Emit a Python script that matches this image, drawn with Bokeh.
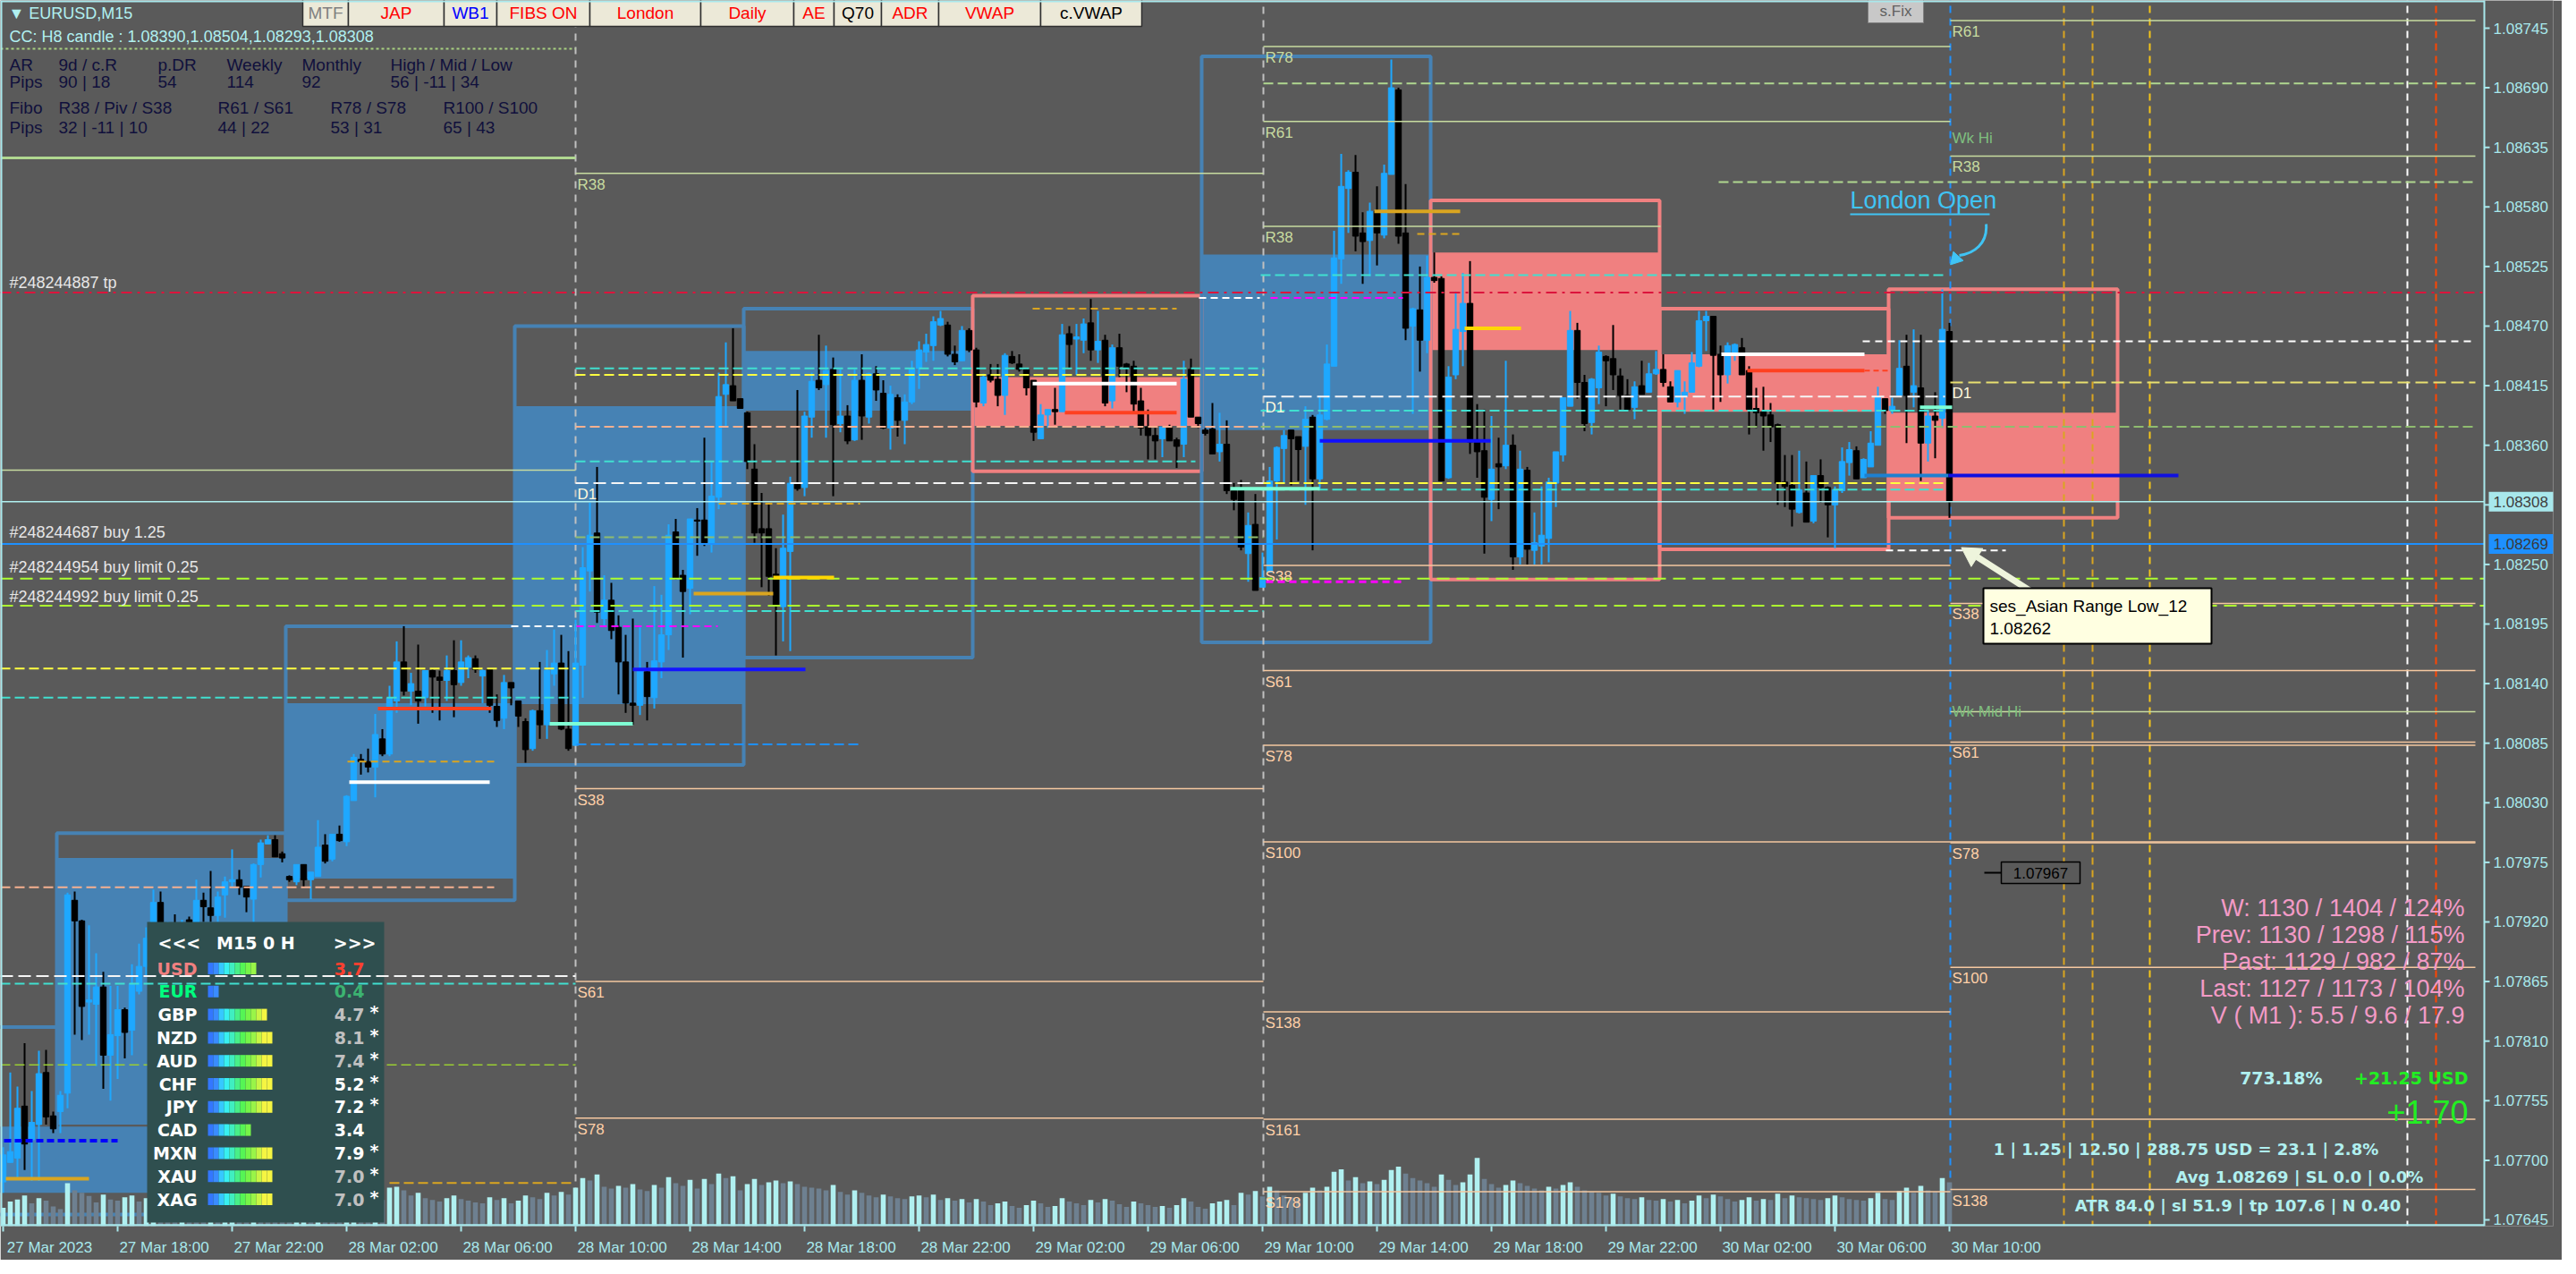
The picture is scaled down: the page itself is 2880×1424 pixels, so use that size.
import numpy as np
from bokeh.plotting import figure
from bokeh.models import Range1d, FixedTicker, NumeralTickFormatter, ColumnDataSource, LinearAxis
from bokeh.embed import file_html
from bokeh.resources import INLINE
from bokeh.core.properties import value

# ---------------- data (EURUSD M15, bar 0 = 27 Mar 2023 14:00), prices in points ----------------
bar_open = [
107680,107698,107702,107750,107719,107733,107781,107741,107745,107762,
107940,107921,107846,107844,107860,107797,107815,107839,107820,107856,
107879,107905,107938,107900,107912,107905,107922,107905,107940,107933,
107926,107945,107957,107959,107953,107941,107973,107992,107996,107983,
107962,107957,107973,107959,107962,107991,107978,108001,107994,108032,
108070,108068,108063,108089,108075,108124,108160,108133,108133,108127,
108152,108146,108143,108152,108141,108155,108163,108147,108153,108119,
108108,108141,108124,108105,108080,108115,108102,108149,108159,108098,
108083,108157,108244,108279,108200,108217,108192,108160,108122,108120,
108151,108127,108160,108185,108280,108240,108228,108291,108291,108269,
108312,108407,108415,108403,108390,108338,108283,108283,108241,108211,
108262,108324,108321,108386,108420,108416,108430,108380,108387,108365,
108420,108386,108426,108408,108376,108404,108383,108400,108431,108446,
108452,108471,108471,108444,108438,108466,108448,108399,108425,108421,
108406,108442,108435,108430,108420,108366,108388,108393,108391,108463,
108458,108457,108473,108448,108457,108401,108450,108435,108433,108401,
108377,108369,108366,108377,108365,108361,108430,108386,108374,108375,
108354,108361,108318,108320,108260,108287,108229,108243,108327,108357,
108374,108368,108359,108386,108329,108384,108433,108532,108597,108612,
108556,108549,108576,108554,108610,108688,108556,108470,108485,108457,
108515,108514,108330,108425,108465,108491,108365,108355,108310,108343,
108341,108360,108257,108337,108263,108267,108274,108325,108351,108396,
108466,108418,108381,108413,108442,108440,108424,108406,108395,108415,
108409,108426,108430,108414,108400,108405,108409,108433,108475,108479,
108444,108425,108443,108450,108429,108394,108391,108388,108379,108326,
108323,108298,108316,108290,108332,108321,108305,108318,108344,108355,
108330,108340,108360,108403,108392,108406,108433,108409,108413,108362,
108387,108385,108465]
bar_high = [
107712,107781,107768,107808,107764,107801,107802,107745,107764,107947,
107948,107922,107917,107891,107874,107861,107861,107841,107881,107900,
107915,107950,107948,107920,107927,107922,107925,107959,107947,107967,
107948,107962,107987,107968,107953,107974,107996,108000,108000,107985,
107963,107973,107973,107966,108014,108001,108001,108009,108037,108075,
108075,108080,108112,108098,108138,108179,108193,108150,108176,108152,
108153,108152,108166,108180,108180,108166,108166,108153,108153,108130,
108148,108141,108124,108108,108116,108160,108171,108190,108185,108170,
108199,108266,108307,108340,108240,108233,108203,108185,108200,108192,
108160,108230,108222,108287,108292,108245,108292,108302,108367,108345,
108427,108455,108468,108403,108391,108361,108316,108306,108265,108296,
108331,108411,108391,108427,108462,108452,108441,108430,108397,108430,
108444,108427,108433,108420,108415,108407,108407,108438,108456,108463,
108479,108484,108474,108452,108470,108468,108450,108426,108435,108435,
108445,108447,108444,108431,108420,108398,108393,108413,108472,108470,
108472,108477,108495,108484,108462,108453,108463,108436,108438,108413,
108393,108376,108377,108379,108367,108438,108440,108386,108376,108399,
108390,108383,108325,108328,108298,108315,108261,108340,108359,108374,
108374,108368,108396,108388,108406,108453,108558,108629,108614,108628,
108575,108584,108599,108619,108716,108690,108601,108487,108525,108535,
108538,108516,108433,108502,108519,108530,108398,108393,108387,108367,
108438,108370,108355,108340,108298,108322,108330,108354,108404,108484,
108473,108425,108422,108452,108443,108471,108431,108421,108419,108438,
108436,108447,108444,108419,108429,108419,108446,108484,108484,108479,
108452,108455,108454,108459,108433,108413,108414,108399,108380,108351,
108351,108355,108345,108332,108347,108322,108322,108358,108363,108359,
108348,108373,108414,108403,108404,108457,108462,108467,108462,108392,
108409,108504,108473]
bar_low = [
107670,107698,107684,107691,107681,107681,107733,107725,107725,107748,
107816,107811,107816,107787,107766,107755,107775,107794,107797,107853,
107870,107895,107885,107890,107885,107895,107890,107898,107920,107920,
107920,107924,107952,107945,107929,107920,107961,107992,107980,107975,
107957,107954,107952,107941,107962,107974,107976,107994,107990,108032,
108056,108058,108035,108073,108073,108113,108129,108120,108103,108119,
108113,108106,108124,108109,108138,108145,108150,108122,108113,108100,
108098,108120,108100,108067,108078,108089,108089,108138,108097,108078,
108083,108127,108225,108196,108193,108181,108130,108113,108102,108111,
108106,108117,108145,108171,108236,108164,108204,108258,108267,108261,
108301,108378,108401,108394,108338,108270,108229,108221,108166,108179,
108170,108318,108313,108367,108411,108367,108313,108372,108361,108364,
108365,108380,108401,108375,108356,108368,108361,108398,108412,108437,
108438,108470,108442,108434,108438,108446,108395,108396,108418,108396,
108388,108435,108428,108406,108364,108366,108376,108379,108391,108431,
108425,108445,108438,108436,108396,108394,108423,108409,108391,108369,
108347,108347,108349,108364,108339,108349,108386,108376,108369,108352,
108345,108315,108300,108263,108234,108226,108229,108243,108273,108325,
108323,108327,108305,108263,108320,108383,108433,108509,108556,108539,
108509,108516,108526,108551,108610,108546,108457,108389,108428,108445,
108510,108327,108329,108421,108433,108352,108330,108260,108290,108301,
108338,108245,108250,108250,108250,108250,108252,108303,108345,108396,
108403,108373,108370,108398,108396,108411,108393,108393,108384,108407,
108409,108425,108414,108400,108395,108389,108409,108432,108447,108393,
108400,108417,108438,108425,108370,108376,108355,108363,108305,108303,
108285,108297,108289,108288,108307,108275,108265,108316,108332,108329,
108330,108340,108360,108389,108389,108406,108362,108395,108327,108345,
108348,108376,108293]
bar_close = [
107705,107708,107748,107715,107735,107780,107740,107729,107760,107945,
107921,107842,107848,107860,107797,107816,107839,107818,107863,107879,
107905,107938,107900,107912,107905,107918,107905,107940,107934,107926,
107943,107957,107959,107952,107943,107973,107993,107996,107980,107979,
107959,107973,107959,107966,107989,107976,108001,107995,108036,108072,
108068,108063,108093,108075,108127,108160,108133,108140,108124,108152,
108146,108143,108152,108139,108160,108164,108153,108152,108120,108106,
108141,108136,108110,108079,108115,108102,108152,108159,108098,108080,
108159,108247,108277,108206,108217,108189,108160,108122,108120,108152,
108128,108161,108185,108277,108237,108225,108292,108290,108270,108313,
108405,108416,108401,108394,108345,108279,108279,108239,108212,108265,
108325,108320,108387,108419,108413,108429,108379,108387,108364,108420,
108387,108426,108411,108376,108407,108383,108400,108431,108448,108453,
108474,108477,108444,108437,108466,108448,108400,108423,108420,108406,
108443,108436,108430,108413,108372,108388,108393,108391,108462,108453,
108460,108472,108448,108456,108399,108450,108433,108431,108398,108376,
108369,108364,108377,108364,108359,108421,108386,108380,108371,108352,
108361,108318,108310,108266,108286,108226,108238,108327,108358,108369,
108366,108356,108384,108329,108388,108435,108533,108599,108612,108553,
108548,108576,108556,108611,108690,108553,108468,108486,108457,108515,
108512,108327,108423,108467,108491,108363,108354,108312,108338,108340,
108360,108257,108338,108264,108270,108277,108326,108354,108404,108466,
108418,108380,108421,108446,108438,108425,108406,108393,108414,108407,
108426,108430,108418,108400,108429,108409,108436,108475,108479,108443,
108425,108452,108453,108425,108393,108390,108387,108377,108325,108322,
108301,108319,108289,108332,108321,108305,108319,108345,108356,108329,
108347,108362,108404,108392,108396,108431,108406,108415,108362,108387,
108383,108467,108308]
bar_volume = [
420,560,610,700,520,640,580,450,390,980,
820,760,690,540,720,610,580,660,700,560,
640,720,680,590,520,610,560,540,500,620,
560,580,640,520,480,700,650,540,520,460,
420,560,600,540,720,640,580,520,800,860,
640,580,820,600,880,900,820,700,760,640,
600,560,640,700,620,580,540,520,660,600,
640,520,580,700,660,620,760,700,780,720,
880,1100,1040,1180,900,860,920,880,960,840,
800,940,880,1120,980,920,1060,860,1080,960,
1200,1100,1140,820,960,1080,940,1000,1040,980,
1020,960,900,880,860,820,940,780,720,820,
760,700,660,720,680,640,620,680,700,660,
720,600,640,580,620,540,620,560,480,520,
560,460,420,480,580,520,440,460,640,560,
520,480,600,540,620,580,500,440,560,520,
480,440,460,420,480,640,560,440,400,520,
560,600,480,760,720,800,680,900,820,700,
660,620,760,880,820,900,1240,1300,1040,1120,
980,1020,960,1060,1280,1360,1200,1100,1040,980,
900,1180,1060,940,1000,1180,1560,1080,960,880,
940,1040,980,920,860,820,900,860,940,1000,
900,820,780,760,700,740,680,640,620,660,
600,580,620,560,600,520,580,700,640,720,
680,620,560,600,660,580,620,600,740,640,
700,660,640,620,600,640,700,660,620,600,
580,640,760,620,600,800,880,760,920,820,
780,1100,1000]

time_labels = ["27 Mar 2023", "27 Mar 18:00", "27 Mar 22:00", "28 Mar 02:00", "28 Mar 06:00",
               "28 Mar 10:00", "28 Mar 14:00", "28 Mar 18:00", "28 Mar 22:00", "29 Mar 02:00",
               "29 Mar 06:00", "29 Mar 10:00", "29 Mar 14:00", "29 Mar 18:00", "29 Mar 22:00",
               "30 Mar 02:00", "30 Mar 06:00", "30 Mar 10:00"]
price_ticks = [1.07645, 1.07700, 1.07755, 1.07810, 1.07865, 1.07920, 1.07975, 1.08030, 1.08085,
               1.08140, 1.08195, 1.08250, 1.08305, 1.08360, 1.08415, 1.08470, 1.08525, 1.08580,
               1.08635, 1.08690, 1.08745]
bid_price = 1.08308
avg_price = 1.08269

# H8 session boxes (first bar index, OHLC)
sess_start = [-8, 8, 40, 72, 104, 136, 168, 200, 232, 264]
sess_open = [1.07670, 1.07733, 1.07960, 1.08121, 1.08392, 1.08423, 1.08374, 1.08538, 1.08444, 1.08390]
sess_high = [1.07823, 1.08002, 1.08193, 1.08470, 1.08486, 1.08498, 1.08719, 1.08586, 1.08486, 1.08504]
sess_low = [1.07650, 1.07702, 1.07940, 1.08065, 1.08164, 1.08336, 1.08178, 1.08236, 1.08264, 1.08293]
sess_close = [1.07731, 1.07979, 1.08122, 1.08396, 1.08447, 1.08378, 1.08536, 1.08448, 1.08391, 1.08308]

# currency strength panel
cur_names = ["USD", "EUR", "GBP", "NZD", "AUD", "CHF", "JPY", "CAD", "MXN", "XAU", "XAG"]
cur_strength = [3.7, 0.4, 4.7, 8.1, 7.4, 5.2, 7.2, 3.4, 7.9, 7.0, 7.0]
cur_star = [False, False, True, True, True, True, True, False, True, True, True]

# ---------------- geometry helpers (reference pixel -> data) ----------------
def X(px):
    return (px - 11) / 8.0

def Y(py):
    return 1.08745 - (py - 39) / 121090.0

BG = "#5a5a5a"
AX = "#a8e8ec"
UP = "#1ea8ff"
DN = "#000000"

# the plot area runs under the price scale, so the bid / average boxes can sit on it
p = figure(width=2864, height=1408, output_backend="svg", toolbar_location=None,
           x_range=Range1d(X(8), X(2862)), y_range=Range1d(Y(1378), Y(8)),
           x_axis_location="below", y_axis_location="right",
           min_border_left=0, min_border_right=10, min_border_top=0, min_border_bottom=38)
p.background_fill_color = BG
p.border_fill_color = BG
p.outline_line_color = None
p.xgrid.visible = False
p.ygrid.visible = False

# price axis: labels pulled back over the price-scale strip
yax = p.yaxis[0]
yax.ticker = FixedTicker(ticks=[t for t in price_ticks if abs(t - 1.08305) > 1e-9])
yax.formatter = NumeralTickFormatter(format="0.00000")
yax.axis_line_color = None
yax.major_tick_line_color = None
yax.minor_tick_line_color = None
yax.major_tick_out = 0
yax.major_tick_in = 0
yax.major_label_standoff = -67
yax.major_label_text_color = AX
yax.major_label_text_font = "Liberation Sans"
yax.major_label_text_font_size = "17px"

# time axis: tick marks on one axis, labels (starting at each tick) on a second one
xax = p.xaxis[0]
xax.ticker = FixedTicker(ticks=[16 * k for k in range(len(time_labels))])
xax.axis_line_color = None
xax.major_tick_line_color = AX
xax.major_tick_line_width = 2
xax.major_tick_out = 6
xax.major_tick_in = 0
xax.minor_tick_line_color = None
xax.major_label_text_font_size = "1px"
xax.major_label_text_alpha = 0
xax.major_label_standoff = 0
lab_ticks = [16 * k + 6.5 for k in range(len(time_labels))]
lab_axis = LinearAxis(ticker=FixedTicker(ticks=lab_ticks),
                      major_label_overrides={t: s for t, s in zip(lab_ticks, time_labels)},
                      axis_line_color=None, major_tick_line_color=None, minor_tick_line_color=None,
                      major_label_standoff=2, major_label_text_color=AX,
                      major_label_text_font="Liberation Sans", major_label_text_font_size="17px")
p.add_layout(lab_axis, "below")

n = min(len(bar_open), len(bar_high), len(bar_low), len(bar_close))
idx = np.arange(n)
o = np.array(bar_open[:n]) / 1e5
h = np.array(bar_high[:n]) / 1e5
l = np.array(bar_low[:n]) / 1e5
c = np.array(bar_close[:n]) / 1e5

def hline(price, x0, x1, color, width=1.5, dash="solid"):
    p.segment(x0=[X(x0)], y0=[price], x1=[X(x1)], y1=[price], line_color=color,
              line_width=width, line_dash=dash)

def vline(px, y0, y1, color, width=2, dash="solid"):
    p.segment(x0=[X(px)], y0=[Y(y0)], x1=[X(px)], y1=[Y(y1)], line_color=color,
              line_width=width, line_dash=dash)

def txt(px, py, s, color, size, align="left", baseline="middle", bold=False, font="Liberation Sans"):
    p.text(x=[X(px)], y=[Y(py)], text=[s], text_color=color, text_font=value(font),
           text_font_size="%dpx" % size, text_align=align, text_baseline=baseline,
           text_font_style="bold" if bold else "normal")

def box(x0, x1, y0, y1, fill, line=None, lw=1):
    p.quad(left=[X(x0)], right=[X(x1)], top=[Y(y0)], bottom=[Y(y1)], fill_color=fill,
           line_color=line, line_width=lw)

# ---------------- session boxes ----------------
s_left = [s - 0.5 for s in sess_start]
s_right = [s + 31.5 for s in sess_start]
s_col = ["#4682b4" if cl >= op else "#f08080" for op, cl in zip(sess_open, sess_close)]
sb = ColumnDataSource(dict(left=s_left, right=s_right,
                           btop=[max(a, b) for a, b in zip(sess_open, sess_close)],
                           bbot=[min(a, b) for a, b in zip(sess_open, sess_close)],
                           top=sess_high, bottom=sess_low, col=s_col))
p.quad(left="left", right="right", top="btop", bottom="bbot", fill_color="col", line_color=None, source=sb)
p.quad(left="left", right="right", top="top", bottom="bottom", fill_color=None, line_color="col",
       line_width=4, source=sb)

# ---------------- vertical separators ----------------
for px, col, dash in [(651, "#c0c0c0", "8 7"), (1420, "#c0c0c0", "8 7"), (2188, "#1e90ff", "8 6"),
                      (2315, "#daa520", "8 6"), (2347, "#daa520", "8 6"), (2411, "#f5c518", "8 6"),
                      (2699, "#ffffff", "8 6"), (2731, "#ff4500", "8 6")]:
    vline(px, 0, 1378, col, 2, dash)

# ---------------- candles ----------------
up = c >= o
for mask, col in ((up, UP), (~up, DN)):
    src = ColumnDataSource(dict(x=idx[mask], o=o[mask], c=c[mask], h=h[mask], l=l[mask]))
    p.segment(x0="x", y0="l", x1="x", y1="h", line_color=col, line_width=2, source=src)
    p.vbar(x="x", top="o", bottom="c", width=0.8, fill_color=col, line_color=col, line_width=1, source=src)

# ---------------- volumes ----------------
vol = bar_volume[:n]
p.extra_y_ranges = {"vol": Range1d(0, 28000)}
vcol = ["#b0f0f0" if (i == 0 or vol[i] >= vol[i - 1]) else "#6e8090" for i in range(n)]
p.vbar(x=idx, top=vol, bottom=0, width=0.7, fill_color=vcol, line_color=None, y_range_name="vol")

# ---------------- horizontal levels ----------------
OL = "#c8dca0"
PE = "#f5c8a0"
CY = "#40e0d0"
GR = "#8fbc6f"
hline(bid_price, 8, 2785, "#b0f0f0", 1.5)
hline(avg_price, 8, 2785, "#1e90ff", 2)
hline(1.08501, 8, 2785, "#dc143c", 2, "12 6 3 6")
hline(1.08237, 8, 2785, "#adff2f", 2, "14 8")
hline(1.08212, 8, 2785, "#adff2f", 2, "14 8")
hline(1.08337, 8, 651, OL, 1.5)
hline(1.08154, 8, 651, "#ffff40", 2, "11 5")
hline(1.08127, 8, 651, CY, 2, "11 5")
hline(1.07952, 8, 560, "#f5b090", 2, "11 5")
hline(1.07788, 8, 651, "#9acd32", 1.5, "11 5")
hline(1.07679, 443, 651, "#daa520", 2, "11 5")
hline(1.08431, 651, 1420, CY, 2, "11 5")
hline(1.08425, 651, 1420, "#ffff40", 2, "11 5")
hline(1.08377, 651, 1420, "#f5b090", 2, "11 5")
hline(1.08345, 651, 1344, CY, 2, "11 5")
hline(1.08275, 651, 1420, GR, 2, "11 5")
hline(1.08207, 651, 1420, CY, 2, "11 5")
hline(1.08084, 652, 970, "#1e90ff", 2, "11 5")
hline(1.08694, 1420, 2775, "#b0d890", 2, "11 5")
hline(1.08517, 1417, 2181, CY, 2, "11 5")
hline(1.08392, 1417, 2182, CY, 2, "11 5")
hline(1.08377, 1417, 2775, GR, 2, "11 5")
hline(1.08325, 1417, 2182, "#ffff40", 2, "11 5")
hline(1.08319, 1417, 2182, CY, 2, "11 5")
hline(1.08603, 1929, 2775, "#b0d890", 2, "11 5")
hline(1.08456, 2090, 2775, "#ffffff", 2, "8 6")
hline(1.08114, 2188, 2775, OL, 1.5)

fib_lines = [("R38", 1.08611, 651, 1420), ("D1", 1.08325, 651, 1420), ("S38", 1.08043, 651, 1420),
             ("S61", 1.07865, 651, 1420), ("S78", 1.07739, 651, 1420),
             ("R78", 1.08728, 1420, 2188), ("R61", 1.08659, 1420, 2188), ("R38", 1.08562, 1420, 1864),
             ("D1", 1.08405, 1420, 2182), ("S38", 1.08249, 1420, 2188), ("S61", 1.08152, 1420, 2775),
             ("S78", 1.08083, 1420, 2775), ("S100", 1.07994, 1420, 2775), ("S138", 1.07837, 1420, 2188),
             ("S161", 1.07738, 1420, 2775), ("S178", 1.07671, 1420, 2188),
             ("R61", 1.08752, 2188, 2775), ("R38", 1.08627, 2188, 2775), ("D1", 1.08418, 2188, 2775),
             ("S38", 1.08214, 2188, 2775), ("S61", 1.08086, 2188, 2775), ("S78", 1.07993, 2188, 2775),
             ("S100", 1.07878, 2188, 2775), ("S138", 1.07673, 2188, 2775)]
for name, price, x0, x1 in fib_lines:
    if name == "D1":
        col = "#e8e070" if x0 == 2188 else "#f5f5f5"
        hline(price, x0, x1, col, 2, "14 6")
        lc = "#fff8dc"
    elif name.startswith("R"):
        hline(price, x0, x1, OL, 1.5)
        lc = OL
    else:
        hline(price, x0, x1, PE, 1.5)
        lc = "#ffd0a8"
    py = 39 + (1.08745 - price) * 121090
    txt(x0 + 2, py + 3, name, lc, 17, baseline="top")
txt(2190, 162, "Wk Hi", "#7fbf7f", 17)
txt(2190, 803, "Wk Mid Hi", "#7fbf7f", 17)

for price, x0, x1, col, w, dash in [
        (1.07683, 14, 107, "#daa520", 4, "solid"), (1.07718, 12, 139, "#0000ff", 4, "8 4"),
        (1.08117, 430, 557, "#ff4020", 4, "solid"), (1.08049, 398, 555, "#ffffff", 4, "solid"),
        (1.08068, 396, 560, "#daa520", 2, "8 5"), (1.08103, 622, 715, "#7fffd4", 4, "solid"),
        (1.08153, 715, 908, "#1414ff", 4, "solid"), (1.08238, 872, 940, "#ffd700", 4, "solid"),
        (1.08223, 783, 872, "#daa520", 4, "solid"), (1.08306, 811, 969, "#daa520", 2, "8 5"),
        (1.08193, 652, 810, "#ff00ff", 2, "8 5"), (1.08193, 579, 647, "#ffffff", 2, "8 5"),
        (1.08417, 1162, 1323, "#ffffff", 4, "solid"), (1.08390, 1198, 1323, "#ff4020", 4, "solid"),
        (1.08486, 1162, 1323, "#daa520", 2, "8 5"), (1.08496, 1428, 1576, "#ff00ff", 2, "8 5"),
        (1.08496, 1348, 1416, "#ffffff", 2, "8 5"), (1.08364, 1483, 1674, "#1010ff", 4, "solid"),
        (1.08320, 1383, 1483, "#7fffd4", 4, "solid"), (1.08234, 1423, 1576, "#ff00ff", 3, "8 5"),
        (1.08576, 1544, 1640, "#daa520", 4, "solid"), (1.08555, 1592, 1640, "#daa520", 2, "8 5"),
        (1.08468, 1645, 1708, "#ffd700", 4, "solid"), (1.08444, 1932, 2092, "#ffffff", 4, "solid"),
        (1.08429, 1961, 2092, "#ff4020", 4, "solid"), (1.08429, 2092, 2120, "#ff4020", 2, "6 4"),
        (1.08332, 2092, 2186, "#1e80d0", 4, "solid"), (1.08332, 2186, 2443, "#1010e0", 4, "solid"),
        (1.08395, 2154, 2190, "#7fffd4", 4, "solid"), (1.08263, 2116, 2250, "#ffffff", 2, "8 5")]:
    hline(price, x0, x1, col, w, dash)

# ---------------- currency strength panel ----------------
box(172, 437, 1038, 1374, "#2f4f4f")
txt(184, 1061, "<<<", "#ffffff", 19, bold=True, font="DejaVu Sans")
txt(300, 1061, "M15  0  H", "#ffffff", 19, align="center", bold=True, font="DejaVu Sans")
txt(428, 1061, ">>>", "#ffffff", 19, align="right", bold=True, font="DejaVu Sans")
seg_cols = ["#3377ff", "#3a8cff", "#36c8ff", "#38f0f0", "#40eec0", "#48f088", "#55f555",
            "#77f548", "#99f548", "#c8f545", "#f5f542", "#f5f542"]
name_cols = {"USD": "#f08080", "EUR": "#00ff7f"}
val_cols = {"USD": "#ff4030", "EUR": "#3cb371", "GBP": "#c0c0c0", "NZD": "#c0c0c0", "AUD": "#c0c0c0",
            "XAU": "#c0c0c0", "XAG": "#c0c0c0"}
for k, (cn, sv, st) in enumerate(zip(cur_names, cur_strength, cur_star)):
    ry = 1090 + 25.8 * k
    txt(228, ry, cn, name_cols.get(cn, "#ffffff"), 19, align="right", bold=True, font="DejaVu Sans")
    nseg = min(12, max(2, int(sv * 2.4 + 0.5)))
    p.quad(left=[X(240 + 6 * j) for j in range(nseg)], right=[X(246 + 6 * j) for j in range(nseg)],
           top=[Y(ry - 6.5)] * nseg, bottom=[Y(ry + 6.5)] * nseg, fill_color=seg_cols[:nseg], line_color=None)
    txt(415, ry, "%.1f" % sv, val_cols.get(cn, "#ffffff"), 19, align="right", bold=True, font="DejaVu Sans")
    if st:
        txt(421, ry - 3, "*", "#ffffff", 19, bold=True, font="DejaVu Sans")
hline(1.07870, 8, 651, "#f5f5f5", 2, "14 6")
hline(1.07863, 8, 651, CY, 2, "11 5")

# ---------------- top-left header ----------------
txt(17, 22, "\u25bc EURUSD,M15", "#b0f0f0", 18)
txt(18, 48, "CC: H8 candle : 1.08390,1.08504,1.08293,1.08308", "#b0f0f0", 18)
hline(Y(62), 8, 651, "#a8d080", 2, "3 3")
hline(Y(184), 8, 651, "#b0d890", 3)
NAVY = "#10103c"
for row_y, items in [(80, [("AR", 18), ("9d / c.R", 73), ("p.DR", 184), ("Weekly", 261), ("Monthly", 345), ("High / Mid / Low", 444)]),
                     (99, [("Pips", 18), ("90 | 18", 73), ("54", 184), ("114", 261), ("92", 345), ("56 | -11 | 34", 444)]),
                     (128, [("Fibo", 18), ("R38 / Piv / S38", 73), ("R61 / S61", 251), ("R78 / S78", 377), ("R100 / S100", 503)]),
                     (150, [("Pips", 18), ("32 | -11 | 10", 73), ("44 | 22", 251), ("53 | 31", 377), ("65 | 43", 503)])]:
    for s, px in items:
        txt(px, row_y, s, NAVY, 19)

buttons = [("MTF", 346, 397, "#808080"), ("JAP", 397, 504, "#ff0000"), ("WB1", 504, 563, "#0000ff"),
           ("FIBS ON", 563, 667, "#ff0000"), ("London", 667, 791, "#ff0000"), ("Daily", 791, 895, "#ff0000"),
           ("AE", 895, 940, "#ff0000"), ("Q70", 940, 993, "#000000"), ("ADR", 993, 1057, "#ff0000"),
           ("VWAP", 1057, 1171, "#ff0000"), ("c.VWAP", 1171, 1284, "#000000")]
for s, x0, x1, col in buttons:
    box(x0, x1, 7, 37, "#ece9d8", "#303030", 1.5)
    txt((x0 + x1) / 2, 22, s, col, 19, align="center")
box(2096, 2158, 7, 33, "#c8c8c8", "#808080", 1)
txt(2127, 20, "s.Fix", "#606060", 17, align="center")

# ---------------- order labels ----------------
txt(18, 323, "#248244887 tp", "#e6e6e6", 18)
txt(18, 602, "#248244687 buy 1.25", "#e6e6e6", 18)
txt(18, 641, "#248244954 buy limit 0.25", "#e6e6e6", 18)
txt(18, 674, "#248244992 buy limit 0.25", "#e6e6e6", 18)

# ---------------- London open annotation ----------------
txt(2076, 231, "London Open", "#40c4f4", 27)
hline(Y(247), 2076, 2232, "#40c4f4", 2)
p.bezier(x0=[X(2228)], y0=[Y(258)], x1=[X(2198)], y1=[Y(293)], cx0=[X(2230)], cy0=[Y(280)],
         cx1=[X(2214)], cy1=[Y(291)], line_color="#40c4f4", line_width=3)
p.scatter(x=[X(2194)], y=[Y(297)], marker="triangle", size=15, angle=2.4,
          fill_color="#40c4f4", line_color="#40c4f4")

# ---------------- tooltip ----------------
p.segment(x0=[X(2290)], y0=[Y(676)], x1=[X(2218)], y1=[Y(630)], line_color="#eef4dc", line_width=7)
p.scatter(x=[X(2212)], y=[Y(627)], marker="triangle", size=24, angle=1.0,
          fill_color="#eef4dc", line_color="#eef4dc")
box(2225, 2480, 665, 727, "#ffffe1", "#000000", 2)
txt(2232, 685, "ses_Asian Range Low_12", "#000000", 19)
txt(2232, 710, "1.08262", "#000000", 19)

# ---------------- 1.07967 price label ----------------
hline(Y(983), 2226, 2245, "#000000", 2)
box(2245, 2333, 971, 995, "#5a5a5a", "#000000", 1.5)
txt(2289, 983, "1.07967", "#000000", 17, align="center")

# ---------------- bottom-right info ----------------
PK = "#f39ac6"
for py, s in [(1022, "W: 1130 / 1404 / 124%"), (1052, "Prev: 1130 / 1298 / 115%"), (1082, "Past: 1129 / 982 / 87%"),
              (1112, "Last: 1127 / 1173 / 104%"), (1142, "V ( M1 ): 5.5 / 9.6 / 17.9")]:
    txt(2763, py, s, PK, 27, align="right")
txt(2604, 1212, "773.18%", "#b0f0f0", 19, align="right", bold=True, font="DejaVu Sans")
txt(2767, 1212, "+21.25 USD", "#22ee22", 19, align="right", bold=True, font="DejaVu Sans")
txt(2767, 1250, "+1.70", "#22ee22", 36, align="right")
txt(2767, 1292, "1   |   1.25   |   12.50   |   288.75 USD = 23.1   |   2.8%", "#b0f0f0", 18, align="right", bold=True, font="DejaVu Sans")
txt(2767, 1323, "Avg 1.08269   |   SL 0.0   |   0.0%", "#b0f0f0", 18, align="right", bold=True, font="DejaVu Sans")
txt(2767, 1355, "ATR 84.0   |   sl 51.9   |   tp 107.6   |   N 0.40", "#b0f0f0", 18, align="right", bold=True, font="DejaVu Sans")

# ---------------- chart border, price-scale line and ticks ----------------
vline(2785, 0, 1378, AX, 2)
p.segment(x0=[X(2785)] * len(price_ticks), y0=price_ticks, x1=[X(2791)] * len(price_ticks), y1=price_ticks,
          line_color=AX, line_width=2)
hline(Y(9), 8, 2785, AX, 2)
vline(9, 8, 1378, AX, 2)
hline(Y(1377), 8, 2785, AX, 2.5)

# bid / average-price boxes on the price scale
for price, bg, fg in [(bid_price, "#a8e8ec", "#404040"), (avg_price, "#1e90ff", "#3a3a3a")]:
    p.quad(left=[X(2790)], right=[X(2868)], top=[price + 11 / 121090.0], bottom=[price - 11 / 121090.0],
           fill_color=bg, line_color=None)
    p.text(x=[X(2795)], y=[price], text=["%.5f" % price], text_color=fg, text_font=value("Liberation Sans"),
           text_font_size="17px", text_align="left", text_baseline="middle")

open("out.html", "w").write(file_html(p, INLINE, title="EURUSD,M15"))
